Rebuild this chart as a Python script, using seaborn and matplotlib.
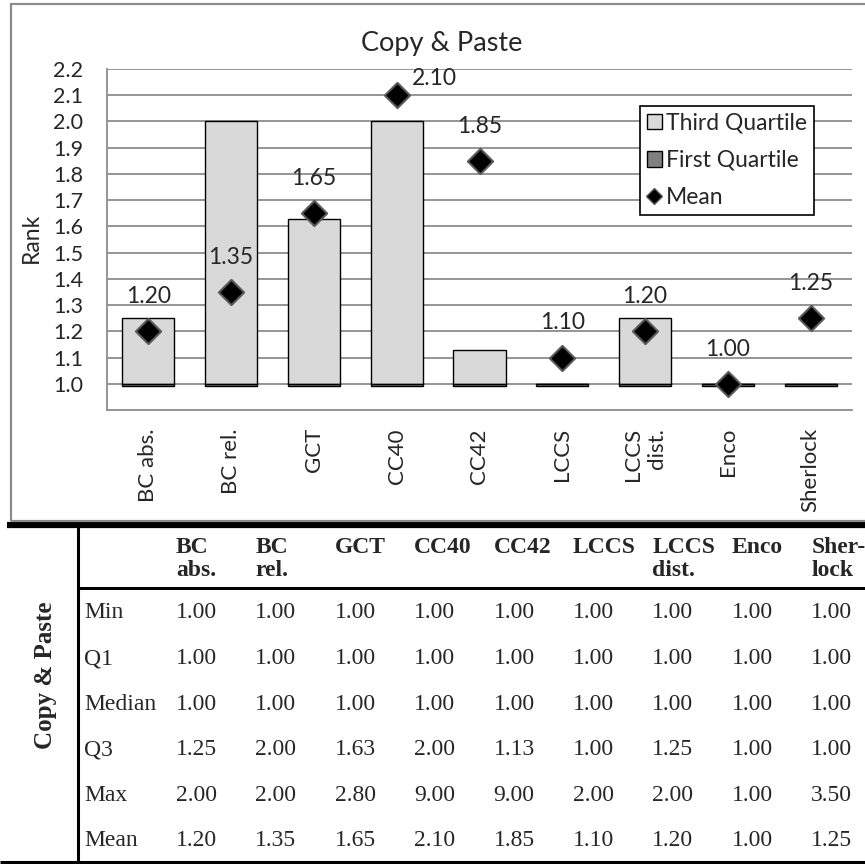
import numpy as np
import pandas as pd
import matplotlib
matplotlib.use("Agg")
import matplotlib.pyplot as plt
import matplotlib.patches as mpatches
from matplotlib.lines import Line2D
import seaborn as sns

# data
methods = ["BC abs.", "BC rel.", "GCT", "CC40", "CC42", "LCCS", "LCCS\ndist.", "Enco", "Sherlock"]
head_labels = ["BC\nabs.", "BC\nrel.", "GCT", "CC40", "CC42", "LCCS", "LCCS\ndist.", "Enco", "Sher-\nlock"]
min_vals = [1.00, 1.00, 1.00, 1.00, 1.00, 1.00, 1.00, 1.00, 1.00]
first_q = [1.00, 1.00, 1.00, 1.00, 1.00, 1.00, 1.00, 1.00, 1.00]
median_vals = [1.00, 1.00, 1.00, 1.00, 1.00, 1.00, 1.00, 1.00, 1.00]
third_q = [1.25, 2.00, 1.63, 2.00, 1.13, 1.00, 1.25, 1.00, 1.00]
max_vals = [2.00, 2.00, 2.80, 9.00, 9.00, 2.00, 2.00, 1.00, 3.50]
means = [1.20, 1.35, 1.65, 2.10, 1.85, 1.10, 1.20, 1.00, 1.25]
row_names = ["Min", "Q1", "Median", "Q3", "Max", "Mean"]

sns.set_style("white")
plt.rcParams["font.family"] = ["Lato", "DejaVu Sans"]

W, H = 865, 864
fig = plt.figure(figsize=(W / 100, H / 100), dpi=100)

df = pd.DataFrame({"method": methods, "q1": first_q, "q3": third_q, "mean": means})
thin = 0.01  # visual thickness of the first-quartile bar
light = "#d9d9d9"
dark = "#808080"
grid_c = "#8c8c8c"

ax = fig.add_axes([107 / W, 1 - 410 / H, (852 - 107) / W, (410 - 69) / H])

# third quartile bar sits on Q1, first quartile is a thin dark bar under it
sns.barplot(data=df, x="method", y=df["q3"] - df["q1"], bottom=df["q1"],
            width=0.63, color=light, edgecolor="black", linewidth=1,
            errorbar=None, ax=ax, zorder=3)
sns.barplot(data=df, x="method", y=[thin] * len(df), bottom=df["q1"] - thin,
            width=0.63, color=dark, edgecolor="black", linewidth=1,
            errorbar=None, ax=ax, zorder=3)
sns.scatterplot(data=df, x="method", y="mean", marker="D", s=165, color="black",
                edgecolor="#595959", linewidth=1.5, zorder=5, legend=False, ax=ax)

ax.set_ylim(0.9, 2.2)
ax.set_xlim(-0.5, len(methods) - 0.5)
ax.set_yticks(np.arange(1.0, 2.21, 0.1))
ax.set_yticklabels([f"{v:.1f}" for v in np.arange(1.0, 2.21, 0.1)])
ax.yaxis.grid(True, color=grid_c, linewidth=1.3)
ax.set_axisbelow(True)
for s in ["top", "right"]:
    ax.spines[s].set_visible(False)
for s in ["left", "bottom"]:
    ax.spines[s].set_color(grid_c)
    ax.spines[s].set_linewidth(1.3)
ax.tick_params(axis="y", length=0, pad=17, labelsize=15.5)
ax.tick_params(axis="x", length=0, pad=13, labelsize=16)
ax.set_xticks(range(len(methods)))
ax.set_xticklabels(methods, rotation=90, va="top", ha="center", multialignment="right")
ax.set_xlabel("")
ax.set_ylabel("")

# mean labels, moved to the right when they would leave the plot
for i, m in enumerate(means):
    if m + 0.134 > 2.2:
        off = (27, 12)
    else:
        off = (0, 25)
    ax.annotate(f"{m:.2f}", (i, m), xytext=off, textcoords="offset points",
                ha="center", va="center", fontsize=16.5, zorder=6)

handles = [mpatches.Patch(facecolor=light, edgecolor="black", label="Third Quartile"),
           mpatches.Patch(facecolor=dark, edgecolor="black", label="First Quartile"),
           Line2D([], [], marker="D", color="black", markeredgecolor="#595959",
                  linestyle="none", markersize=8, label="Mean")]
leg = ax.legend(handles=handles, loc="upper right", bbox_to_anchor=(814 / W, 1 - 106 / H),
                bbox_transform=fig.transFigure, borderaxespad=0, fontsize=16.5,
                handlelength=0.65, handleheight=0.65, handletextpad=0.2,
                labelspacing=0.7, borderpad=0.3, fancybox=False, framealpha=1)
leg.get_frame().set_edgecolor("black")
leg.get_frame().set_linewidth(1.2)

fig.text(442 / W, 1 - 43 / H, "Copy & Paste", ha="center", va="center", fontsize=19.5)
fig.text(31 / W, 1 - 238 / H, "Rank", rotation=90, ha="center", va="center", fontsize=16.5)

# chart border
fig.add_artist(mpatches.Rectangle((11 / W, 1 - 521 / H), 1.2, (521 - 4) / H,
                                  transform=fig.transFigure, fill=False,
                                  edgecolor=grid_c, linewidth=1.6))

# table below the chart, drawn in pixel coordinates
tax = fig.add_axes([0, 0, 1, 1])
tax.set_xlim(0, W)
tax.set_ylim(H, 0)
tax.axis("off")

serif = "Liberation Serif"
tax.plot([7, W], [525, 525], color="black", linewidth=4.5, solid_capstyle="butt")
tax.plot([78, W], [588, 588], color="black", linewidth=2.2, solid_capstyle="butt")
tax.plot([0, W], [862, 862], color="black", linewidth=2.2, solid_capstyle="butt")
tax.plot([78, 78], [527, H], color="black", linewidth=2.2, solid_capstyle="butt")

col_x0, col_step = 176, 79.4
for j, lab in enumerate(head_labels):
    tax.text(col_x0 + j * col_step, 537, lab, family=serif, fontweight="bold",
             fontsize=17, ha="left", va="top", linespacing=1.12)

rows = [min_vals, first_q, median_vals, third_q, max_vals, means]
row_y0, row_step = 613, 45.6
for r, (name, vals) in enumerate(zip(row_names, rows)):
    y = row_y0 + r * row_step
    tax.text(84, y, name, family=serif, fontsize=17, ha="left", va="center")
    for j, v in enumerate(vals):
        tax.text(col_x0 + j * col_step, y, f"{v:.2f}", family=serif, fontsize=17,
                 ha="left", va="center")

tax.text(46, 675, "Copy & Paste", family=serif, fontweight="bold", fontsize=18,
         rotation=90, ha="center", va="center")

fig.savefig("out.png", dpi=100)
